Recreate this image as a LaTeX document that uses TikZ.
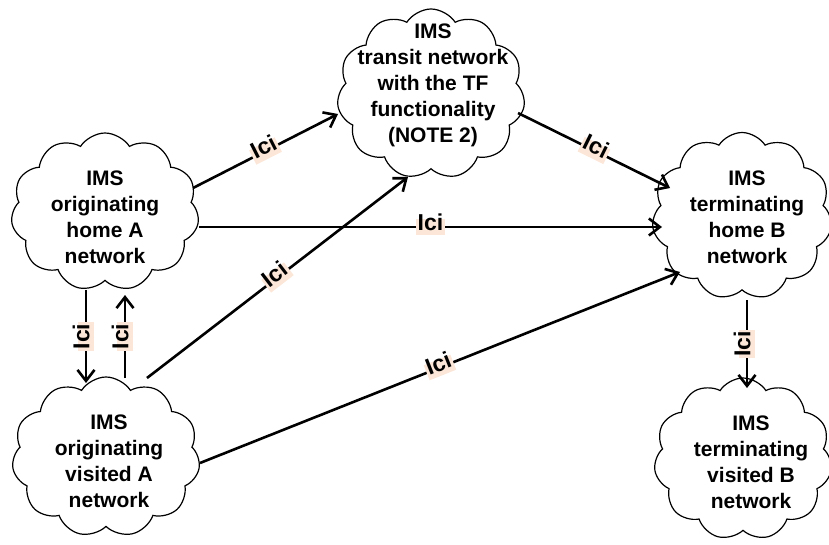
\documentclass[tikz,border=0pt]{standalone}
\usepackage{fontspec}
\setmainfont{Liberation Sans}
\usetikzlibrary{shapes.symbols,arrows.meta,calc}
\definecolor{labelbg}{RGB}{251,230,215}
\begin{document}
\begin{tikzpicture}[x=1pt,y=-1pt,
  net/.style={cloud, draw, line width=1.2pt, cloud puffs=11, cloud puff arc=115,
    cloud ignores aspect, inner sep=0pt},
  nettext/.style={align=center, font=\fontsize{21}{26}\selectfont\bfseries, inner sep=0pt},
  link/.style={line width=2.6pt, -{Straight Barb[length=11pt,width=17pt]}},
  ici/.style={fill=labelbg, font=\fontsize{23}{23}\selectfont\bfseries, inner xsep=1.5pt,
    inner ysep=2.5pt, text height=0.9em, text depth=0.21em}]
\useasboundingbox (0,0) rectangle (829,545);

% networks
\node[net, minimum width=188pt, minimum height=158pt] (ah) at (105,212) {};
\node[net, minimum width=188pt, minimum height=160pt] (av) at (106,457) {};
\node[net, minimum width=188pt, minimum height=170pt] (tr) at (431,94) {};
\node[net, minimum width=180pt, minimum height=167pt] (hb) at (742,216) {};
\node[net, minimum width=178pt, minimum height=162pt] (vb) at (743,459) {};

\node[nettext] (ahT) at (105,217) {IMS\\originating\\home A\\network};
\node[nettext] (avT) at (109,461) {IMS\\originating\\visited A\\network};
\node[nettext] (trT) at (433,85) {IMS\\transit network\\with the TF\\functionality\\(NOTE 2)};
\node[nettext] (hbT) at (747,217) {IMS\\terminating\\home B\\network};
\node[nettext] (vbT) at (751,462) {IMS\\terminating\\visited B\\network};

% Ici interconnections
\draw[link] ($(ah)+(88,-24)$) -- node[ici, sloped] {Ici} ($(tr)+(-93,20)$);
\draw[link] ($(tr)+(87,19)$) -- node[ici, sloped] {Ici} ($(hb)+(-72,-28)$);
\draw[link] ($(ah)+(94,15)$) -- node[ici] {Ici} ($(hb)+(-80,11)$);
\draw[link] ($(av)+(41,-79)$) -- node[ici, sloped] {Ici} ($(tr)+(-23,83)$);
\draw[link] ($(av)+(94,6)$) -- node[ici, sloped] {Ici} ($(hb)+(-62,56)$);
\draw[link] ($(ah)+(-19,78)$) -- node[ici, rotate=90] {Ici} ($(av)+(-20,-74)$);
\draw[link] ($(av)+(19,-79)$) -- node[ici, rotate=90] {Ici} ($(ah)+(20,83)$);
\draw[link] ($(hb)+(5,84)$) -- node[ici, rotate=90] {Ici} ($(vb)+(4,-71)$);
\end{tikzpicture}
\end{document}
